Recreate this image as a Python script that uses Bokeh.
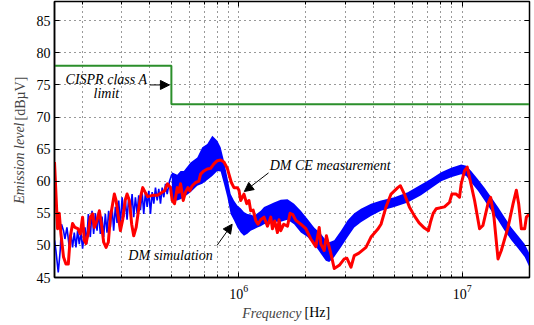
import numpy as np
from bokeh.plotting import figure
from bokeh.models import (FixedTicker, LinearAxis, LogAxis, Label, Arrow, NormalHead,
                          CustomJSTickFormatter, Range1d, Title)
from bokeh.embed import file_html
from bokeh.resources import INLINE

# ---------------- data ----------------
# CISPR class A limit (step)
limit_f_mhz = [0.15, 0.5, 20.0]
limit_db = [78.0, 72.0, 72.0]

# DM CE measurement (red)
red_f_mhz = [
    0.150, 0.1548, 0.1575, 0.1603, 0.1646, 0.1688, 0.1729, 0.1765, 0.1807, 0.1852,
    0.1907, 0.1956, 0.2003, 0.2039, 0.2075, 0.2125, 0.2169, 0.2222, 0.2261, 0.2320,
    0.2381, 0.2430, 0.2489, 0.2551, 0.2612, 0.2667, 0.2731, 0.2779, 0.2829, 0.2897,
    0.2957, 0.3028, 0.3104, 0.3168, 0.3244, 0.3322, 0.3392, 0.3478, 0.3561, 0.3635,
    0.3723, 0.3816, 0.3920, 0.4114, 0.4333, 0.4657, 0.4803, 0.4955, 0.5043, 0.5164,
    0.5311, 0.5400, 0.5495, 0.5650, 0.5785, 0.5924, 0.6048, 0.6200, 0.6414, 0.6637,
    0.6755, 0.6989, 0.7238, 0.7489, 0.7748, 0.8027, 0.8305, 0.8592, 0.8899, 0.9047,
    0.9274, 0.9526, 0.9867, 1.003, 1.021, 1.056, 1.086, 1.112, 1.132, 1.161,
    1.192, 1.220, 1.255, 1.299, 1.345, 1.392, 1.416, 1.450, 1.491, 1.516,
    1.543, 1.591, 1.654, 1.698, 1.746, 1.802, 1.897, 1.997, 2.103, 2.214,
    2.292, 2.332, 2.413, 2.469, 2.507, 2.586, 2.676, 2.818, 2.967, 3.051,
    3.179, 3.289, 3.452, 3.711, 3.908, 4.188, 4.333, 4.563, 4.804, 5.149,
    5.288, 5.512, 5.804, 6.111, 6.416, 6.776, 7.062, 7.209, 7.413, 7.645,
    8.329, 8.770, 8.991, 9.399, 9.725, 9.897, 10.24, 10.53, 10.78, 11.36,
    11.96, 12.38, 13.04, 13.40, 13.87, 14.46, 14.96, 16.03, 16.89, 17.47,
    17.89, 18.39, 19.03, 19.36, 20.0,
]
red_db = [
    63.0, 52.6, 55.0, 51.8, 48.2, 47.1, 47.1, 51.3, 53.4, 52.8,
    52.6, 51.8, 54.4, 50.8, 50.3, 52.0, 54.4, 54.9, 52.8, 53.8,
    55.4, 53.5, 50.5, 49.7, 50.5, 54.4, 56.5, 58.0, 57.0, 54.4,
    52.3, 54.0, 57.0, 58.0, 57.0, 53.3, 51.5, 52.8, 55.4, 57.5,
    59.0, 58.3, 57.6, 57.8, 57.8, 58.5, 59.6, 59.0, 57.0, 56.5,
    59.0, 58.3, 59.6, 57.0, 58.3, 59.0, 58.5, 59.3, 59.8, 60.0,
    61.1, 61.6, 61.9, 62.0, 62.7, 63.2, 63.3, 63.0, 62.0, 61.1,
    59.8, 59.0, 59.0, 58.6, 57.0, 58.0, 56.5, 57.0, 55.4, 55.5,
    53.9, 53.3, 54.0, 54.4, 53.0, 54.4, 52.6, 53.8, 52.0, 54.0,
    52.3, 53.3, 53.0, 55.0, 54.8, 53.9, 53.3, 52.6, 51.0, 49.8,
    52.8, 50.2, 49.2, 51.5, 50.5, 48.7, 46.4, 46.9, 47.9, 48.0,
    46.6, 48.4, 48.8, 49.7, 51.3, 52.5, 53.3, 56.0, 58.0, 59.0,
    59.3, 58.0, 56.0, 54.6, 53.5, 52.7, 52.3, 53.6, 55.0, 55.7,
    56.0, 56.7, 58.0, 58.0, 57.5, 59.6, 61.6, 62.2, 60.6, 57.0,
    52.6, 53.1, 56.5, 57.5, 54.4, 47.9, 49.2, 52.8, 56.5, 58.6,
    56.5, 52.6, 52.6, 54.4, 54.9,
]

# DM simulation (blue), low-frequency part (oscillating trace)
blue_lf_f_mhz = [
    0.150, 0.1522, 0.1559, 0.1591, 0.1612, 0.1646, 0.1670, 0.1705, 0.1747, 0.1778,
    0.1807, 0.1839, 0.1871, 0.1903, 0.1936, 0.1970, 0.2003, 0.2054, 0.2088, 0.2125,
    0.2169, 0.2208, 0.2245, 0.2285, 0.2325, 0.2363, 0.2405, 0.2447, 0.2489, 0.2532,
    0.2577, 0.2620, 0.2667, 0.2714, 0.2759, 0.2808, 0.2858, 0.2906, 0.2957, 0.3010,
    0.3060, 0.3114, 0.3168, 0.3221, 0.3278, 0.3336, 0.3392, 0.3452, 0.3513, 0.3572,
    0.3635, 0.3700, 0.3761, 0.3828, 0.3896, 0.3961, 0.4031, 0.4102, 0.4171, 0.4245,
    0.4319, 0.4391, 0.4469, 0.4548, 0.4624, 0.4706, 0.4788, 0.4904, 0.5022,
]
blue_lf_db = [
    50.8, 49.2, 45.8, 49.2, 53.3, 52.3, 51.0, 52.8, 49.7, 51.8,
    49.7, 52.0, 49.7, 52.3, 50.2, 52.0, 49.5, 52.8, 50.2, 54.9,
    51.3, 55.4, 51.8, 55.0, 52.3, 55.2, 51.8, 54.5, 51.3, 54.9,
    52.0, 55.4, 52.8, 56.0, 52.3, 56.0, 53.5, 57.0, 53.3, 57.5,
    54.4, 57.0, 54.0, 57.5, 55.0, 58.0, 54.4, 57.5, 55.0, 57.8,
    55.5, 58.3, 54.9, 58.3, 56.0, 58.5, 54.9, 58.3, 56.5, 59.0,
    57.0, 58.8, 56.5, 59.0, 57.5, 59.6, 58.0, 60.0, 61.1,
]

# DM simulation (blue), high-frequency part: dense band (upper / lower envelope)
blue_hf_f_mhz = [
    0.5022, 0.5311, 0.5495, 0.5685, 0.6092, 0.6528, 0.6874, 0.7238, 0.7622, 0.8027,
    0.8305, 0.8592, 0.8899, 0.9208, 0.9526, 0.9867, 1.021, 1.056, 1.094, 1.132,
    1.171, 1.213, 1.255, 1.299, 1.345, 1.439, 1.543, 1.654, 1.770, 1.897,
    2.033, 2.176, 2.332, 2.455, 2.541, 2.676, 2.868, 3.073, 3.289, 3.524,
    3.908, 4.333, 4.971, 5.707, 6.549, 7.261, 8.052, 8.928, 9.897, 10.42,
    10.97, 11.76, 12.59, 13.49, 14.46, 15.48, 16.59, 17.78, 19.03, 20.0,
]
blue_hf_upper_db = [
    61.4, 61.0, 61.6, 61.6, 62.9, 63.7, 65.3, 65.8, 67.1, 66.3,
    65.3, 63.2, 60.6, 58.0, 57.0, 56.2, 55.8, 55.2, 54.9, 54.8,
    54.6, 55.0, 55.4, 56.0, 56.2, 56.7, 57.1, 57.2, 56.5, 55.4,
    54.1, 52.8, 51.8, 50.8, 50.5, 50.8, 52.3, 53.9, 55.0, 55.7,
    56.5, 57.0, 57.5, 58.3, 59.5, 60.4, 61.4, 62.1, 62.6, 62.4,
    61.6, 60.3, 59.0, 57.5, 56.0, 54.4, 52.8, 51.5, 50.2, 48.7,
]
blue_hf_lower_db = [
    57.0, 57.0, 57.2, 57.5, 58.3, 59.3, 59.6, 60.2, 60.8, 61.6,
    61.5, 59.6, 57.5, 54.9, 53.9, 52.8, 52.0, 51.5, 51.8, 52.3,
    52.5, 52.8, 53.0, 53.3, 53.5, 53.7, 53.7, 54.0, 53.3, 52.0,
    51.3, 50.2, 48.7, 47.6, 47.4, 48.2, 49.7, 51.3, 52.8, 53.6,
    54.6, 55.4, 56.0, 56.7, 57.8, 58.9, 60.0, 60.6, 61.1, 60.8,
    59.8, 58.5, 57.0, 55.4, 53.9, 52.3, 50.8, 49.5, 48.2, 46.6,
]

y_ticks = [45, 50, 55, 60, 65, 70, 75, 80, 85]
x_major_ticks = [1e6, 1e7]
x_minor_ticks = [2e5, 3e5, 4e5, 5e5, 6e5, 7e5, 8e5, 9e5,
                 2e6, 3e6, 4e6, 5e6, 6e6, 7e6, 8e6, 9e6]

MHZ = 1e6
FONT = "Liberation Serif"

# ---------------- figure ----------------
p = figure(width=534, height=325, x_axis_type="log",
           x_range=Range1d(0.15e6, 20e6), y_range=Range1d(45, 88),
           output_backend="svg", toolbar_location=None,
           min_border_left=54, min_border_right=5, min_border_top=1, min_border_bottom=48)
p.background_fill_color = "white"
p.border_fill_color = "white"
p.outline_line_color = "black"
p.outline_line_width = 1.5

xticker = FixedTicker(ticks=x_major_ticks, minor_ticks=x_minor_ticks)
yticker = FixedTicker(ticks=y_ticks, minor_ticks=[])

xa = p.xaxis[0]
xa.ticker = xticker
ya = p.yaxis[0]
ya.ticker = yticker
for ax in (xa, ya):
    ax.axis_line_color = "black"
    ax.axis_line_width = 1.5
    ax.major_tick_in = 5
    ax.major_tick_out = 0
    ax.minor_tick_in = 3
    ax.minor_tick_out = 0
    ax.major_tick_line_color = "black"
    ax.minor_tick_line_color = "black"
    ax.major_label_text_font = FONT
    ax.major_label_text_font_size = "14px"
    ax.major_label_text_color = "black"
ya.major_label_standoff = 4
xa.major_label_standoff = 7

for g in (p.xgrid[0], p.ygrid[0]):
    g.grid_line_color = "#333333"
    g.grid_line_dash = "1 4"
    g.grid_line_width = 1
p.xgrid[0].ticker = xticker
p.ygrid[0].ticker = yticker
p.xgrid[0].minor_grid_line_color = "#333333"
p.xgrid[0].minor_grid_line_dash = "1 4"
p.xgrid[0].minor_grid_line_width = 1

empty = CustomJSTickFormatter(code="return ''")
top = LogAxis(ticker=xticker, formatter=empty, major_tick_in=5, major_tick_out=0,
              minor_tick_in=3, minor_tick_out=0, major_label_standoff=0,
              major_label_text_font_size="0px", axis_line_color="black")
right = LinearAxis(ticker=yticker, formatter=empty, major_tick_in=5, major_tick_out=0,
                   minor_tick_in=0, minor_tick_out=0, major_label_standoff=0,
                   major_label_text_font_size="0px", axis_line_color="black")
p.add_layout(top, "above")
p.add_layout(right, "right")

# ---------------- glyphs ----------------
p.step(x=np.array(limit_f_mhz) * MHZ, y=limit_db, mode="after",
       line_color="#2b8f2b", line_width=2)

p.line(x=np.array(blue_lf_f_mhz) * MHZ, y=blue_lf_db, line_color="#0000ff", line_width=1.6)
p.varea(x=np.array(blue_hf_f_mhz) * MHZ, y1=blue_hf_lower_db, y2=blue_hf_upper_db,
        fill_color="#0000ff")

p.line(x=np.array(red_f_mhz) * MHZ, y=red_db, line_color="#ff0000", line_width=3,
       line_join="round")

# ---------------- annotations ----------------
def lab(x, y, text, align="left", style="italic", **kw):
    p.add_layout(Label(x=x, y=y, text=text, text_font=FONT, text_font_style=style,
                       text_font_size="14px", text_color="black", text_align=align,
                       text_baseline="middle", **kw))

lab(0.256e6, 75.9, "CISPR class A", align="center")
lab(0.256e6, 73.6, "limit", align="center")
lab(1.377e6, 62.4, "DM CE measurement")
lab(0.321e6, 48.4, "DM simulation")

def arrow(x0, y0, x1, y1):
    p.add_layout(Arrow(x_start=x0, y_start=y0, x_end=x1, y_end=y1,
                       line_color="black", line_width=1,
                       end=NormalHead(size=9, fill_color="black", line_color="black")))

arrow(0.40e6, 75.0, 0.49e6, 75.0)
arrow(1.36e6, 61.3, 1.06e6, 58.4)
arrow(0.80e6, 50.0, 0.935e6, 53.3)

# axis titles (mixed italic / upright) in the side panels
p.add_layout(Label(x=1, y=155, x_units="screen", y_units="screen", angle=np.pi / 2,
                   text="Emission level", text_font=FONT, text_font_style="italic",
                   text_font_size="14px", text_align="right", text_baseline="middle"), "left")
p.add_layout(Label(x=17, y=157, x_units="screen", y_units="screen", angle=np.pi / 2,
                   text="[dBµV]", text_font=FONT, text_font_style="normal",
                   text_font_size="14px", text_align="left", text_baseline="middle"), "left")
p.add_layout(Label(x=247, y=3, x_units="screen", y_units="screen",
                   text="Frequency", text_font=FONT, text_font_style="italic",
                   text_font_size="14px", text_align="right", text_baseline="middle"), "below")
p.add_layout(Title(text="[Hz]", align="left", vertical_align="top", offset=250, standoff=-24,
                   text_font=FONT, text_font_style="normal", text_font_size="14px",
                   text_color="black"), "below")

open("out.html", "w").write(file_html(p, INLINE))
